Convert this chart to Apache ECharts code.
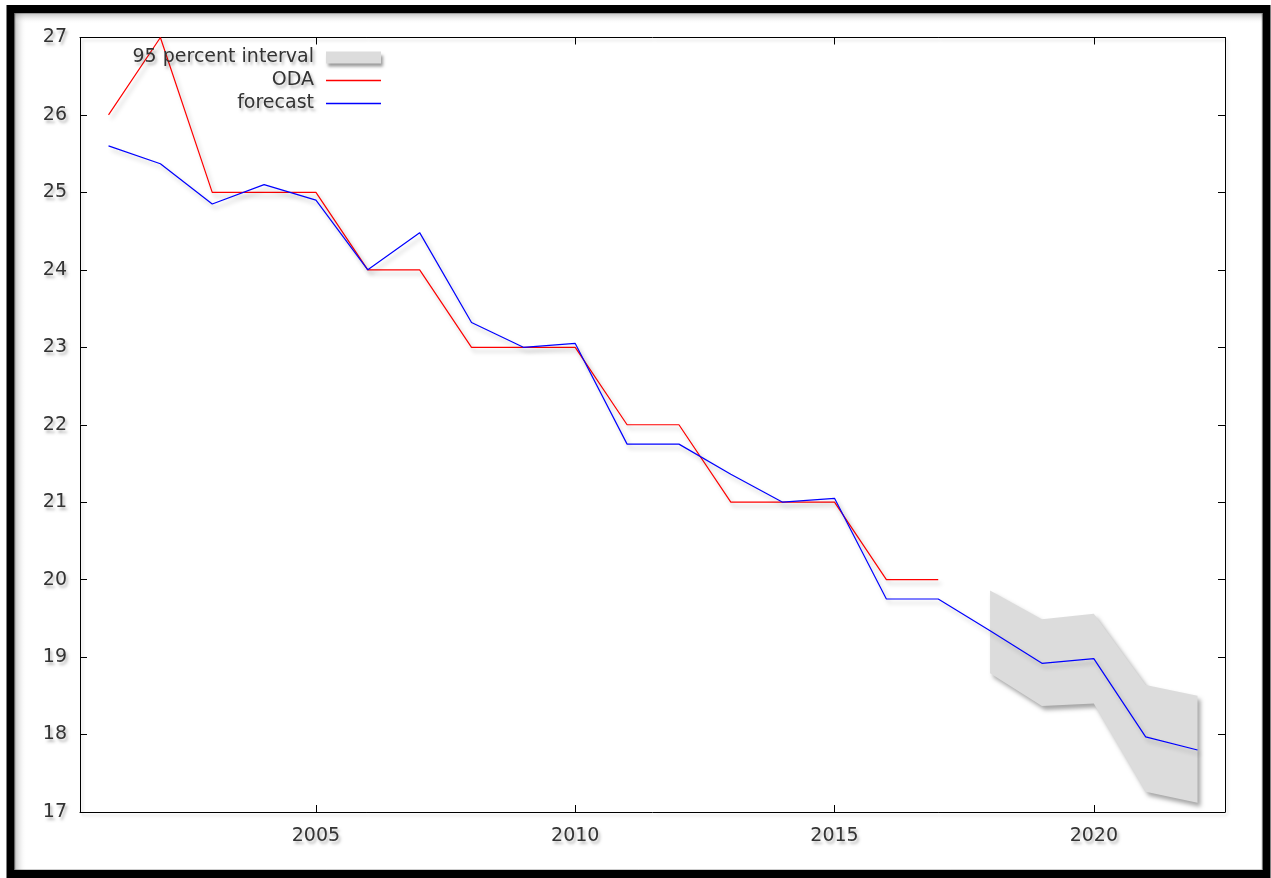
<!DOCTYPE html>
<html><head><meta charset="utf-8">
<script src="https://cdn.jsdelivr.net/npm/echarts@6/dist/echarts.min.js"></script>
<style>html,body{margin:0;padding:0;background:#fff}#c{width:1271px;height:878px}</style>
</head><body><div id="c"></div>
<script>
// ---- data ----
const odaYears = [2001,2002,2003,2004,2005,2006,2007,2008,2009,2010,2011,2012,2013,2014,2015,2016,2017];
const odaValues = [26,27,25,25,25,24,24,23,23,23,22,22,21,21,21,20,20];
const forecastYears = [2001,2002,2003,2004,2005,2006,2007,2008,2009,2010,2011,2012,2013,2014,2015,2016,2017,2018,2019,2020,2021,2022];
const forecastValues = [25.60,25.37,24.85,25.10,24.90,24.00,24.48,23.32,23.00,23.05,21.75,21.75,21.36,21.00,21.05,19.75,19.75,19.34,18.92,18.98,17.97,17.80];
const bandYears = [2018,2019,2020,2021,2022];
const bandUpper = [19.86,19.49,19.56,18.64,18.50];
const bandLower = [18.79,18.37,18.40,17.26,17.12];
const seriesNames = ['95 percent interval','ODA','forecast'];

// ---- styles ----
const FONT = 'DejaVu Sans';
const FS = 19;
const txtShadow = {textShadowColor:'rgba(0,0,0,0.28)', textShadowBlur:3, textShadowOffsetX:2, textShadowOffsetY:3};
const lineShadow = {shadowColor:'rgba(0,0,0,0.25)', shadowBlur:4, shadowOffsetX:3, shadowOffsetY:4};
const labelStyle = Object.assign({color:'#333', fontSize:FS, fontFamily:FONT}, txtShadow);

const chart = echarts.init(document.getElementById('c'), null, {renderer:'canvas'});

function axisCommon(extra){
  return Object.assign({
    type:'value',
    splitLine:{show:false},
    axisLine:{show:true, onZero:false, lineStyle:{color:'#000', width:1, shadowColor:'rgba(0,0,0,0.15)', shadowBlur:3, shadowOffsetX:2, shadowOffsetY:3}},
    axisTick:{show:true, inside:true, length:7, lineStyle:{color:'#000', width:1}}
  }, extra);
}

function legendFor(name, top, itemHeight, itemStyle){
  const d = {name:name, icon:'rect'};
  if (itemStyle) d.itemStyle = itemStyle;
  return {
    data:[d], right:890, top:top, padding:0, itemWidth:55, itemHeight:itemHeight, itemGap:12,
    align:'right', selectedMode:false,
    textStyle:Object.assign({padding:[0,7,0,0]}, labelStyle)
  };
}

const option = {
  animation:false,
  backgroundColor:'#fff',
  grid:{left:80, right:46, top:37.5, bottom:66},
  graphic:[
    {type:'rect', silent:true, z:-10, shape:{x:14.5, y:13, width:12, height:857},
     style:{fill:new echarts.graphic.LinearGradient(0,0,1,0,[{offset:0,color:'rgba(140,140,140,0.55)'},{offset:1,color:'rgba(255,255,255,0)'}])}},
    {type:'rect', silent:true, z:-10, shape:{x:14.5, y:13, width:1248, height:11},
     style:{fill:new echarts.graphic.LinearGradient(0,0,0,1,[{offset:0,color:'rgba(140,140,140,0.55)'},{offset:1,color:'rgba(255,255,255,0)'}])}},
    {type:'rect', silent:true, z:-9, shape:{x:15, y:13.5, width:1247, height:856},
     style:{fill:'none', stroke:'rgba(0,0,0,0.2)', lineWidth:1}},
    {type:'rect', silent:true, z:-8, shape:{x:10.5, y:9, width:1256, height:865},
     style:{fill:'none', stroke:'#000', lineWidth:8}}
  ],
  legend:[
    legendFor(seriesNames[0], 48, 12, {color:'#dcdcdc', shadowColor:'rgba(0,0,0,0.4)', shadowBlur:3, shadowOffsetX:2, shadowOffsetY:3}),
    legendFor(seriesNames[1], 71, 1.3, {color:'#ff0000'}),
    legendFor(seriesNames[2], 94, 1.3, {color:'#0000ff'})
  ],
  xAxis:[
    axisCommon({position:'bottom', min:2000.45, max:2022.53,
      axisLabel:Object.assign({show:true, margin:15, showMinLabel:false, showMaxLabel:false,
        formatter:function(v){ return (Math.abs(v % 5) < 1e-9) ? String(v) : ''; }}, labelStyle)}),
    axisCommon({position:'top', min:2000.45, max:2022.53, axisLabel:{show:false}})
  ],
  yAxis:[
    axisCommon({position:'left', min:17, max:27, interval:1,
      axisLabel:Object.assign({show:true, margin:13}, labelStyle)}),
    axisCommon({position:'right', min:17, max:27, interval:1, axisLabel:{show:false}})
  ],
  series:[
    {
      name:seriesNames[0], type:'custom', xAxisIndex:0, yAxisIndex:0, z:1,
      itemStyle:{color:'#dcdcdc'},
      data: bandYears.map((y,i)=>[y, bandUpper[i], bandLower[i]]),
      encode:{x:0, y:[1,2]},
      renderItem:function(params, api){
        if (params.dataIndex !== 0) return null;
        const pts = [];
        for (let i=0;i<bandYears.length;i++) pts.push(api.coord([bandYears[i], bandUpper[i]]));
        for (let i=bandYears.length-1;i>=0;i--) pts.push(api.coord([bandYears[i], bandLower[i]]));
        return {type:'polygon', shape:{points:pts},
          style:{fill:'#dcdcdc', shadowColor:'rgba(0,0,0,0.35)', shadowBlur:4, shadowOffsetX:3, shadowOffsetY:4}};
      }
    },
    {
      name:seriesNames[1], type:'line', xAxisIndex:0, yAxisIndex:0, z:3,
      symbol:'none', color:'#ff0000',
      lineStyle:Object.assign({color:'#ff0000', width:1.2}, lineShadow),
      data: odaYears.map((y,i)=>[y, odaValues[i]])
    },
    {
      name:seriesNames[2], type:'line', xAxisIndex:0, yAxisIndex:0, z:4,
      symbol:'none', color:'#0000ff',
      lineStyle:Object.assign({color:'#0000ff', width:1.2}, lineShadow),
      data: forecastYears.map((y,i)=>[y, forecastValues[i]])
    }
  ]
};
chart.setOption(option);
</script>
</body></html>
